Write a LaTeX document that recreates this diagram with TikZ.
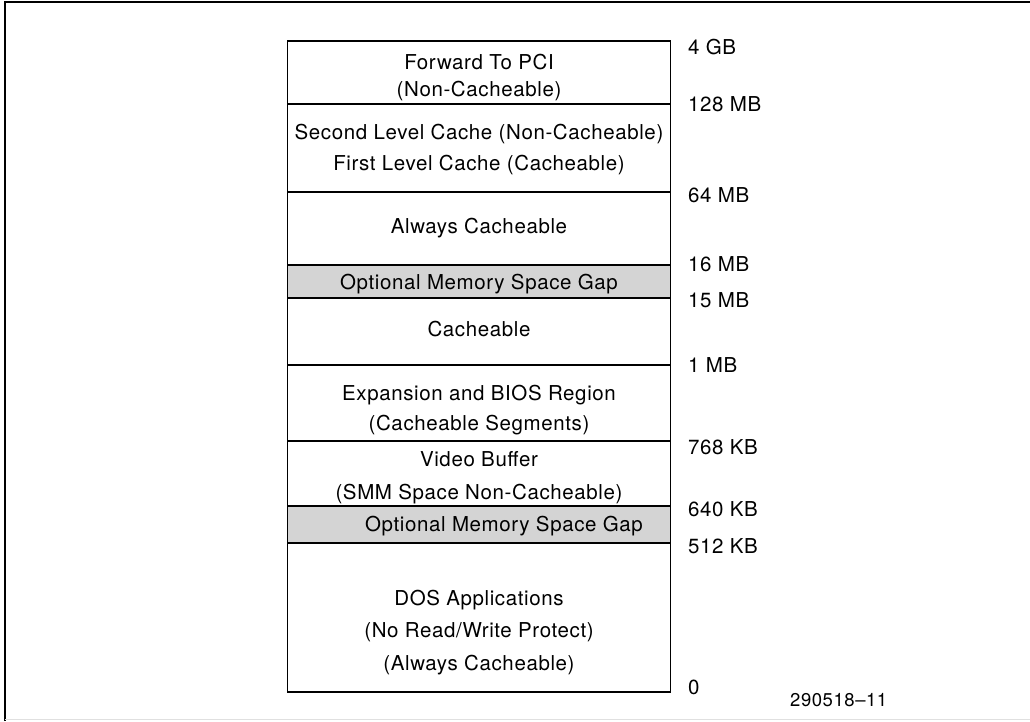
\documentclass[tikz,border=0pt]{standalone}
\usepackage{fontspec}
\setmainfont{TeX Gyre Heros}[LetterSpace=3]
\tikzset{
	mem/.style={draw,line width=1.3pt,outer sep=0pt,minimum width=383pt,minimum height=#1,inner sep=0pt,anchor=north},
	gap/.style={mem=#1,fill=black!17},
	memtext/.style={inner sep=0pt,align=center},
	addr/.style={anchor=west,inner sep=0pt}
}
\begin{document}
\begin{tikzpicture}[x=1pt,y=-1pt,font=\fontsize{20.5}{31}\selectfont]
	\useasboundingbox (0,0) rectangle (1030,721);
	% frame
	\draw[line width=2.2pt] (5,721)--(5,2)--(1030,2);
	\draw[black!12,line width=1pt] (5,719.5)--(1030,719.5);
	% memory map
	\node[mem=63pt] (pci) at (479,41) {};
	\node[mem=88pt] (cache) at (pci.south) {};
	\node[mem=73pt] (always) at (cache.south) {};
	\node[gap=33pt] (gapa) at (always.south) {};
	\node[mem=67pt] (cach) at (gapa.south) {};
	\node[mem=76pt] (bios) at (cach.south) {};
	\node[mem=65pt] (video) at (bios.south) {};
	\node[gap=37pt] (gapb) at (video.south) {};
	\node[mem=149pt] (dos) at (gapb.south) {};
	% region texts
	\node[memtext,yshift=-5.5pt] (pcitext) at (pci) {Forward To PCI\\[-4pt](Non-Cacheable)};
	\node[memtext,yshift=-1.5pt] (cachetext) at (cache) {Second Level Cache (Non-Cacheable)\\First Level Cache (Cacheable)};
	\node[memtext] (alwaystext) at (always) {Always Cacheable};
	\node[memtext,yshift=-3pt] (gapatext) at (gapa) {Optional Memory Space Gap};
	\node[memtext,yshift=2pt] (cachtext) at (cach) {Cacheable};
	\node[memtext,yshift=-7.5pt] (biostext) at (bios) {Expansion and BIOS Region\\[-1pt](Cacheable Segments)};
	\node[memtext,yshift=-4.5pt] (videotext) at (video) {Video Buffer\\[2pt](SMM Space Non-Cacheable)};
	\node[memtext,xshift=25pt,yshift=-2pt] (gapbtext) at (gapb) {Optional Memory Space Gap};
	\node[memtext,yshift=-15pt] (dostext) at (dos) {DOS Applications\\[1.5pt](No Read/Write Protect)\\[1.5pt](Always Cacheable)};
	% addresses
	\node[addr] (a4g) at (688,47) {4 GB};
	\node[addr] (a128m) at (688,104) {128 MB};
	\node[addr] (a64m) at (688,195) {64 MB};
	\node[addr] (a16m) at (688,264) {16 MB};
	\node[addr] (a15m) at (688,300) {15 MB};
	\node[addr] (a1m) at (688,365) {1 MB};
	\node[addr] (a768k) at (688,447) {768 KB};
	\node[addr] (a640k) at (688,509) {640 KB};
	\node[addr] (a512k) at (688,546) {512 KB};
	\node[addr] (azero) at (688,687) {0};
	\node[addr,font=\fontsize{18.5}{20}\selectfont] (fig) at (790,700) {290518--11};
\end{tikzpicture}
\end{document}
